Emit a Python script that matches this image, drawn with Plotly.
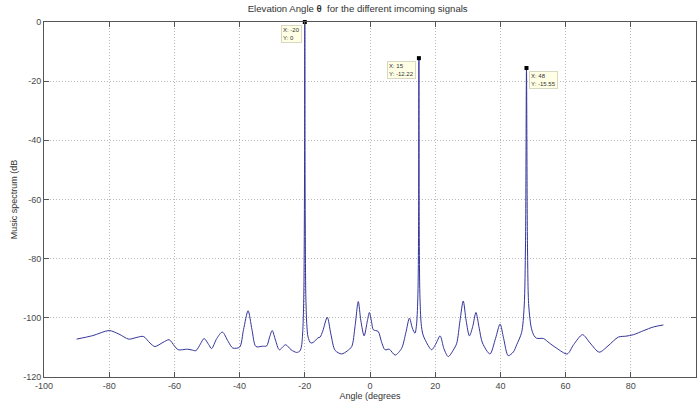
import plotly.graph_objects as go

# MUSIC pseudo-spectrum samples (angle in degrees, level in dB)
angle_deg = [
    -90, -85, -80, -77, -74, -71.5, -69.5, -67.5, -66, -63.5, -61.6, -60, -58.8,
    -56, -54.5, -53.4, -52, -50.9, -49.5, -48.6, -47, -45.3, -43.5, -42.1, -40,
    -38.8, -37.4, -36.2, -35, -33, -31.7, -30.8, -30, -29, -27.8, -25.9, -24.2,
    -22.5, -21.5, -21, -20.6, -20.3, -20.15, -20.05, -20, -19.95, -19.85, -19.7,
    -19.4, -19, -18.2, -17.4, -16, -15.3, -14.5, -13.1, -12, -10.7, -8.7, -7,
    -5.6, -4.6, -3.6, -2.8, -1.8, -0.8, -0.2, 0.5, 1, 2.5, 3.5, 4.6, 5.9, 7.7,
    9.7, 11, 12.1, 13, 13.8, 14.3, 14.7, 14.9, 15, 15.1, 15.3, 15.7, 16.2, 16.9,
    18.9, 20.2, 21.5, 22.7, 24, 25.5, 26.6, 27.6, 28.6, 29.5, 30.5, 31.5, 32.5,
    33.5, 34.5, 36.8, 38.5, 39.9, 41, 42.4, 44, 45, 46.5, 47.3, 47.7, 48, 48.3,
    48.7, 49.5, 50.3, 51.1, 53.2, 55, 57.3, 60.5, 62.5, 65.2, 67.5, 70.3, 73,
    76.2, 78.5, 80.8, 84, 86.9, 90,
]
spectrum_db = [
    -107.2, -106.0, -104.3, -105.5, -107.2, -106.6, -106.3, -108.5, -109.7,
    -108.3, -107.4, -109.5, -110.8, -110.6, -110.9, -111.1, -108.8, -107.0,
    -109.0, -110.4, -107.0, -104.8, -108.0, -110.2, -109.9, -104.0, -97.6,
    -104.0, -109.7, -109.6, -109.5, -106.5, -104.3, -107.5, -110.8, -109.1,
    -110.8, -111.7, -111.2, -109.5, -104.0, -92.0, -70.0, -40.0, 0.0, -40.0,
    -70.0, -92.0, -102.0, -106.5, -108.5, -108.3, -106.8, -106.5, -104.5,
    -99.8, -105.5, -111.0, -112.2, -111.2, -109.7, -103.0, -94.5, -101.0,
    -106.1, -101.0, -98.2, -101.5, -104.0, -104.6, -108.0, -110.8, -110.6,
    -112.6, -110.3, -105.0, -100.1, -103.5, -105.2, -102.0, -92.0, -70.0,
    -12.22, -70.0, -92.0, -102.0, -105.5, -107.4, -110.8, -108.8, -106.1,
    -110.5, -113.1, -111.0, -108.6, -101.0, -94.3, -101.0, -106.1, -103.0,
    -98.2, -103.5, -108.5, -112.2, -107.0, -102.1, -107.0, -112.8, -111.5,
    -109.1, -105.0, -96.0, -75.0, -15.55, -75.0, -96.0, -103.5, -106.0, -106.9,
    -107.0, -108.5, -110.3, -112.2, -109.0, -105.7, -108.5, -111.6, -109.5,
    -106.5, -106.2, -105.7, -104.3, -103.1, -102.4,
]

# Data tips placed on the three detected sources
tip_angles = [-20, 15, 48]
tip_levels = [0, -12.22, -15.55]
tip_labels = ["X: -20<br>Y: 0", "X: 15<br>Y: -12.22", "X: 48<br>Y: -15.55"]
tip_sides = ["left", "left", "right"]

x_ticks = [-100, -80, -60, -40, -20, 0, 20, 40, 60, 80, 100]
x_tick_text = ["-100", "-80", "-60", "-40", "-20", "0", "20", "40", "60", "80", "100"]
y_ticks = [-120, -100, -80, -60, -40, -20, 0]
y_tick_text = ["-120", "-100", "-80", "-60", "-40", "-20", "0"]

FONT = "Liberation Sans, Arial"

fig = go.Figure()
fig.add_trace(go.Scatter(
    x=angle_deg, y=spectrum_db, mode="lines",
    line=dict(color="#34349a", width=1, shape="spline", smoothing=0.8),
    hoverinfo="skip", showlegend=False,
))
fig.add_trace(go.Scatter(
    x=tip_angles, y=tip_levels, mode="markers",
    marker=dict(symbol="square", size=4, color="black"),
    hoverinfo="skip", showlegend=False, cliponaxis=False,
))

for xa, ya, txt, side in zip(tip_angles, tip_levels, tip_labels, tip_sides):
    fig.add_annotation(
        x=xa, y=ya, text=txt, showarrow=False, align="left",
        xanchor="right" if side == "left" else "left", yanchor="top",
        xshift=-3 if side == "left" else 3, yshift=-3,
        font=dict(size=6, color="#333333", family=FONT),
        bgcolor="#ffffe6", bordercolor="#d8d8c0", borderwidth=1, borderpad=1,
    )

axis_common = dict(
    showgrid=True, gridcolor="#b8b8b8", griddash="1px,2px", gridwidth=1,
    showline=True, linecolor="#555555", linewidth=1, mirror="ticks",
    ticks="inside", ticklen=5, tickcolor="#555555",
    tickfont=dict(size=9, color="#484848", family=FONT),
    zeroline=False,
)

fig.update_layout(
    width=700, height=407,
    margin=dict(l=44, r=4, t=22, b=30),
    paper_bgcolor="white", plot_bgcolor="white",
    title=dict(
        text="Elevation Angle <b>θ</b>  for the different imcoming signals",
        x=0.511, xanchor="center", y=0.978, yanchor="middle",
        font=dict(size=9.6, color="#333333", family=FONT),
    ),
    xaxis=dict(
        range=[-100, 100], tickvals=x_ticks, ticktext=x_tick_text, **axis_common,
        title=dict(text="Angle (degrees", standoff=2,
                   font=dict(size=9, color="#333333", family=FONT)),
    ),
    yaxis=dict(
        range=[-120, 0], tickvals=y_ticks, ticktext=y_tick_text, **axis_common,
        title=dict(text="Music spectrum (dB", standoff=4,
                   font=dict(size=9, color="#333333", family=FONT)),
    ),
)

fig.write_html("out.html")
